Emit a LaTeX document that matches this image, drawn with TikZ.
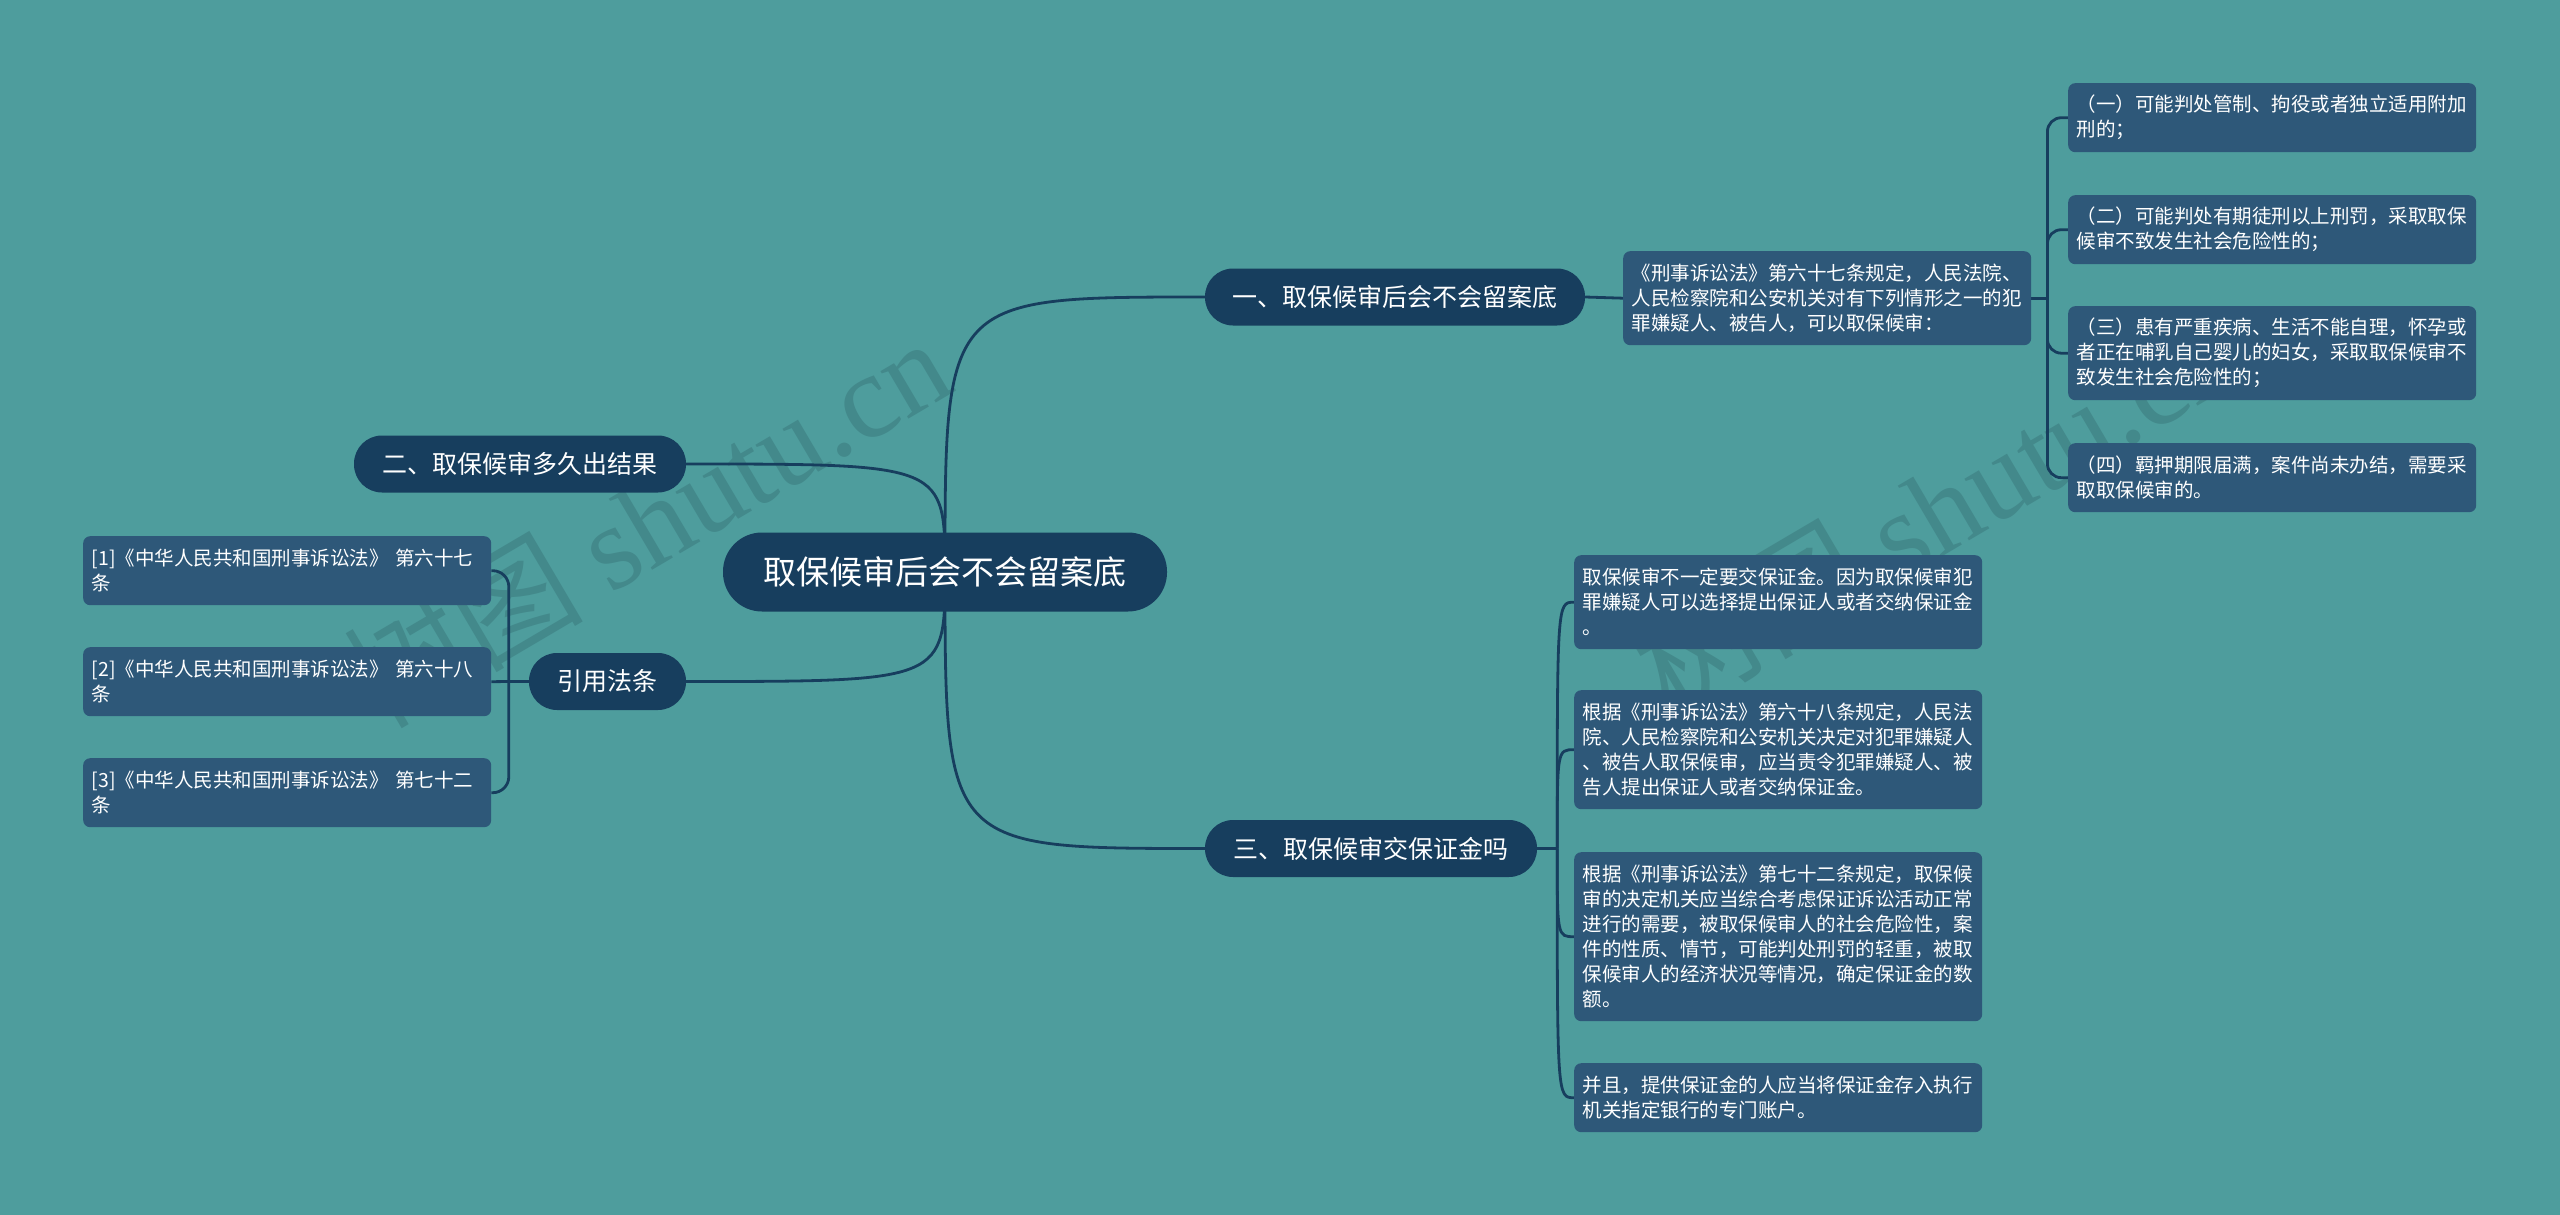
\documentclass[tikz,border=0pt]{standalone}
\usepackage{fontspec}
\setmainfont{Noto Sans CJK SC}
\newfontfamily\wmserif{Liberation Serif}
\usetikzlibrary{calc}
\definecolor{bgteal}{HTML}{4E9D9D}
\definecolor{navy}{HTML}{173E5E}
\definecolor{leafblue}{HTML}{2E5879}
\definecolor{wmark}{HTML}{43898B}
\pgfdeclarelayer{background}
\pgfsetlayers{background,main}
\begin{document}
\begin{tikzpicture}[x=1pt,y=-1pt,
  pill/.style={fill=navy, text=white, inner sep=0pt, anchor=center},
  rootnode/.style={pill, minimum width=444pt, minimum height=79pt, rounded corners=39pt, font=\fontsize{33}{40}\selectfont},
  branch/.style={pill, minimum height=57pt, rounded corners=28pt, font=\fontsize{25}{30}\selectfont},
  leaf/.style={fill=leafblue, text=white, anchor=north west, rounded corners=7pt, inner xsep=8.5pt, inner ysep=2pt, text width=391pt, align=left, font=\fontsize{19.5}{25}\selectfont},
  leaftwo/.style={leaf, minimum height=69pt},
  leafthree/.style={leaf, minimum height=94pt},
  leaffour/.style={leaf, minimum height=119pt},
  leafsix/.style={leaf, minimum height=169pt},
  link/.style={draw=navy, line width=2.8pt},
  wm/.style={text=wmark, rotate=30.5, inner sep=0pt, font=\fontsize{120}{120}\selectfont}
]
\begin{pgfonlayer}{background}
  \fill[bgteal] (0,0) rectangle (2560,1215);
  \node[wm] (wma) at (646,521) {树图 {\wmserif shutu.cn}};
  \node[wm] (wmb) at (1935,508) {树图 {\wmserif shutu.cn}};
\end{pgfonlayer}
\useasboundingbox (0,0) rectangle (2560,1215);

% root and branches
\node[rootnode] (root) at (945,572) {取保候审后会不会留案底};
\node[branch, minimum width=380pt] (b1) at (1395,297) {一、取保候审后会不会留案底};
\node[branch, minimum width=332pt] (b2) at (520,464) {二、取保候审多久出结果};
\node[branch, minimum width=332pt] (b3) at (1371,848.5) {三、取保候审交保证金吗};
\node[branch, minimum width=157pt] (cite) at (607.5,681.5) {引用法条};

% branch 1 content
\node[leafthree] (t1) at (1623,251) {《刑事诉讼法》第六十七条规定，人民法院、\\人民检察院和公安机关对有下列情形之一的犯\\罪嫌疑人、被告人，可以取保候审：};
\node[leaftwo] (p1) at (2068,83) {（一）可能判处管制、拘役或者独立适用附加\\刑的；};
\node[leaftwo] (p2) at (2068,195) {（二）可能判处有期徒刑以上刑罚，采取取保\\候审不致发生社会危险性的；};
\node[leafthree] (p3) at (2068,306) {（三）患有严重疾病、生活不能自理，怀孕或\\者正在哺乳自己婴儿的妇女，采取取保候审不\\致发生社会危险性的；};
\node[leaftwo] (p4) at (2068,443) {（四）羁押期限届满，案件尚未办结，需要采\\取取保候审的。};

% cited articles
\node[leaftwo] (r1) at (83,536) {[1]《中华人民共和国刑事诉讼法》 第六十七\\条};
\node[leaftwo] (r2) at (83,647) {[2]《中华人民共和国刑事诉讼法》 第六十八\\条};
\node[leaftwo] (r3) at (83,758) {[3]《中华人民共和国刑事诉讼法》 第七十二\\条};

% branch 3 content
\node[leafthree] (q1) at (1574,555) {取保候审不一定要交保证金。因为取保候审犯\\罪嫌疑人可以选择提出保证人或者交纳保证金\\。};
\node[leaffour] (q2) at (1574,690) {根据《刑事诉讼法》第六十八条规定，人民法\\院、人民检察院和公安机关决定对犯罪嫌疑人\\、被告人取保候审，应当责令犯罪嫌疑人、被\\告人提出保证人或者交纳保证金。};
\node[leafsix] (q3) at (1574,852) {根据《刑事诉讼法》第七十二条规定，取保候\\审的决定机关应当综合考虑保证诉讼活动正常\\进行的需要，被取保候审人的社会危险性，案\\件的性质、情节，可能判处刑罚的轻重，被取\\保候审人的经济状况等情况，确定保证金的数\\额。};
\node[leaftwo] (q4) at (1574,1063) {并且，提供保证金的人应当将保证金存入执行\\机关指定银行的专门账户。};

\coordinate (j1) at ($(t1.east)+(16,0)$);
\coordinate (j3) at ($(b3.east)+(20,0)$);
\coordinate (jc) at ($(cite.west)+(-20,0)$);

\begin{pgfonlayer}{background}
  \draw[link] (root.center) .. controls (root.center |- b1.west) .. (b1.west);
  \draw[link] (root.center) .. controls (root.center |- b2.east) .. (b2.east);
  \draw[link] (root.center) .. controls (root.center |- b3.west) .. (b3.west);
  \draw[link] (root.center) .. controls (root.center |- cite.east) .. (cite.east);
  \draw[link] (b1.east) -- (t1.west);
  \draw[link] (t1.east) -- (j1);
  \foreach \n in {p1,p2,p3,p4}
    \draw[link, rounded corners=14pt] (j1) -- (j1 |- \n.west) -- (\n.west);
  \draw[link] (b3.east) -- (j3);
  \foreach \n in {q1,q2,q3,q4}
    \draw[link] (j3) .. controls (j3 |- \n.west) .. (\n.west);
  \draw[link] (cite.west) -- (jc);
  \draw[link] (r2.east) -- (jc);
  \foreach \n in {r1,r3}
    \draw[link, rounded corners=16pt] (jc) -- (jc |- \n.east) -- (\n.east);
\end{pgfonlayer}
\end{tikzpicture}
\end{document}
